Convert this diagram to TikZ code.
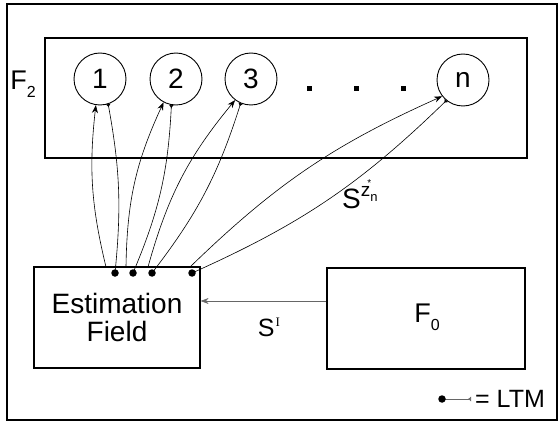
\documentclass[tikz,border=0pt]{standalone}
\usepackage{fontspec}
\setmainfont{Liberation Sans}
\newfontfamily\romanI{Liberation Serif}
\usetikzlibrary{arrows.meta,calc}
\begin{document}
\begin{tikzpicture}[x=1pt,y=-1pt,
  frame/.style={draw, line width=1.2pt},
  field/.style={draw, line width=1.2pt, inner sep=0pt},
  unit/.style={circle, draw, line width=0.9pt, minimum size=52pt, inner sep=0pt,
    font=\fontsize{28}{28}\selectfont},
  lbl/.style={inner sep=0pt, font=\fontsize{27}{27}\selectfont},
  sig/.style={-{Stealth[length=8pt,width=6pt]}, line width=0.6pt},
  ltm/.style={-{Latex[reversed,length=3pt,width=5pt]}, line width=0.6pt},
  ltmdot/.style={circle, fill, inner sep=0pt, minimum size=7.5pt},
  gap/.style={fill, inner sep=0pt, minimum size=5pt}]
\useasboundingbox (0,0) rectangle (560,425);

% outer frame
\draw[frame] (7,4) rectangle (557,420);

% F2 layer with its category nodes
\node[field, minimum width=482pt, minimum height=120pt] (f2) at (286,98) {};
\node[lbl] (f2lbl) at (23,84) {F\raisebox{-8pt}{\fontsize{16}{16}\selectfont 2}};
\node[unit] (c1) at (100,79) {1};
\node[unit] (c2) at (176,79) {2};
\node[unit] (c3) at (251,79) {3};
\node[unit] (cn) at (463,80) {n};
\node[gap] (g1) at (309,89) {};
\node[gap] (g2) at (356,89) {};
\node[gap] (g3) at (403,89) {};

% estimation field and F0
\node[field, minimum width=166pt, minimum height=101pt, align=center,
  font=\fontsize{28}{28}\selectfont] (est) at (117,317.5) {Estimation\\Field};
\node[field, minimum width=198pt, minimum height=101pt] (f0) at (426,318.5) {};
\node[lbl] (f0lbl) at (427,317) {F\raisebox{-8pt}{\fontsize{16}{16}\selectfont 0}};

% input signal from F0
\draw[sig, draw=black!60] ([yshift=17.5pt]f0.west) -- ([yshift=17.5pt]f0.west -| est.east);
\node[lbl, font=\fontsize{25}{25}\selectfont] (silbl) at (269,327)
  {S\kern1pt\raisebox{10pt}{\romanI\fontsize{13}{13}\selectfont I}};

% bottom-up signal sources and LTM ends on the estimation field
\coordinate (s1) at (106,267);
\coordinate (s2) at (126,267);
\coordinate (s3) at (148,267);
\coordinate (sn) at (190,267);
\coordinate (d1) at (115,273);
\coordinate (d2) at (133,273);
\coordinate (d3) at (152,273);
\coordinate (dn) at (192,273);

\draw[sig] (s1) to[bend left=10] (c1.261);
\draw[sig] (s2) to[bend left=12] (c2.242);
\draw[sig] (s3) to[bend left=12] (c3.233);
\draw[sig] (sn) to[bend left=10] (cn.218);
\draw[ltm] (d1) to[bend right=8] (c1.288);
\draw[ltm] (d2) to[bend right=10] (c2.260);
\draw[ltm] (d3) to[bend right=10] (c3.247);
\draw[ltm] (dn) to[bend right=10] (cn.231);

\foreach \d in {d1,d2,d3,dn} \node[ltmdot] at (\d) {};

% feedback signal label
\node[lbl, font=\fontsize{28}{28}\selectfont, anchor=base west] (szs) at (342,208)
  {S\raisebox{12pt}{\fontsize{19}{19}\selectfont z\kern-3pt\raisebox{9pt}{\fontsize{10}{10}\selectfont *}\kern-1pt\raisebox{-5pt}{\fontsize{13}{13}\selectfont n}}};

% legend
\coordinate (ka) at (442,399);
\coordinate (kb) at (471,399);
\draw[ltm, draw=black!60] (ka) -- (kb);
\node[ltmdot] (kdot) at (ka) {};
\node[lbl, anchor=west, font=\fontsize{25}{25}\selectfont] (key) at (475,399) {= LTM};
\end{tikzpicture}
\end{document}
